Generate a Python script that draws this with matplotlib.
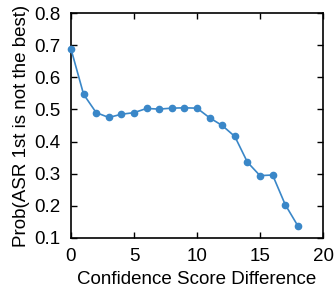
import numpy as np
import matplotlib.pyplot as plt

plt.rcParams['font.family'] = ['Liberation Sans', 'DejaVu Sans']

# data
score_diff = [0, 1, 2, 3, 4, 5, 6, 7, 8, 9, 10, 11, 12, 13, 14, 15, 16, 17, 18]
prob_not_best = [0.688, 0.547, 0.490, 0.475, 0.485, 0.490, 0.503, 0.501, 0.504, 0.505,
                 0.504, 0.474, 0.450, 0.416, 0.336, 0.294, 0.296, 0.204, 0.138]
x_ticks = [0, 5, 10, 15, 20]
y_ticks = [0.1, 0.2, 0.3, 0.4, 0.5, 0.6, 0.7, 0.8]

fig = plt.figure(figsize=(3.36, 2.91), dpi=100)
ax = fig.add_axes([71 / 336, 53 / 291, 252 / 336, 225 / 291])

ax.plot(score_diff, prob_not_best, color="#3a87c8", linewidth=1.2,
        marker="o", markersize=4.5, clip_on=False, zorder=3)

ax.set_xlim(0, 20)
ax.set_ylim(0.1, 0.8)
ax.set_xticks(x_ticks)
ax.set_yticks(y_ticks)
ax.set_yticklabels([f"{v:.1f}" for v in y_ticks])
ax.tick_params(direction="in", top=True, right=True, length=4, width=1,
               labelsize=13.5)
ax.tick_params(axis="y", pad=7.5)
ax.tick_params(axis="x", pad=7.5)
for s in ax.spines.values():
    s.set_linewidth(1.2)

ax.set_xlabel("Confidence Score Difference", fontsize=13.5, labelpad=4)
ax.set_ylabel("Prob(ASR 1st is not the best)", fontsize=13.5, labelpad=3)

fig.savefig("out.png", dpi=100)
